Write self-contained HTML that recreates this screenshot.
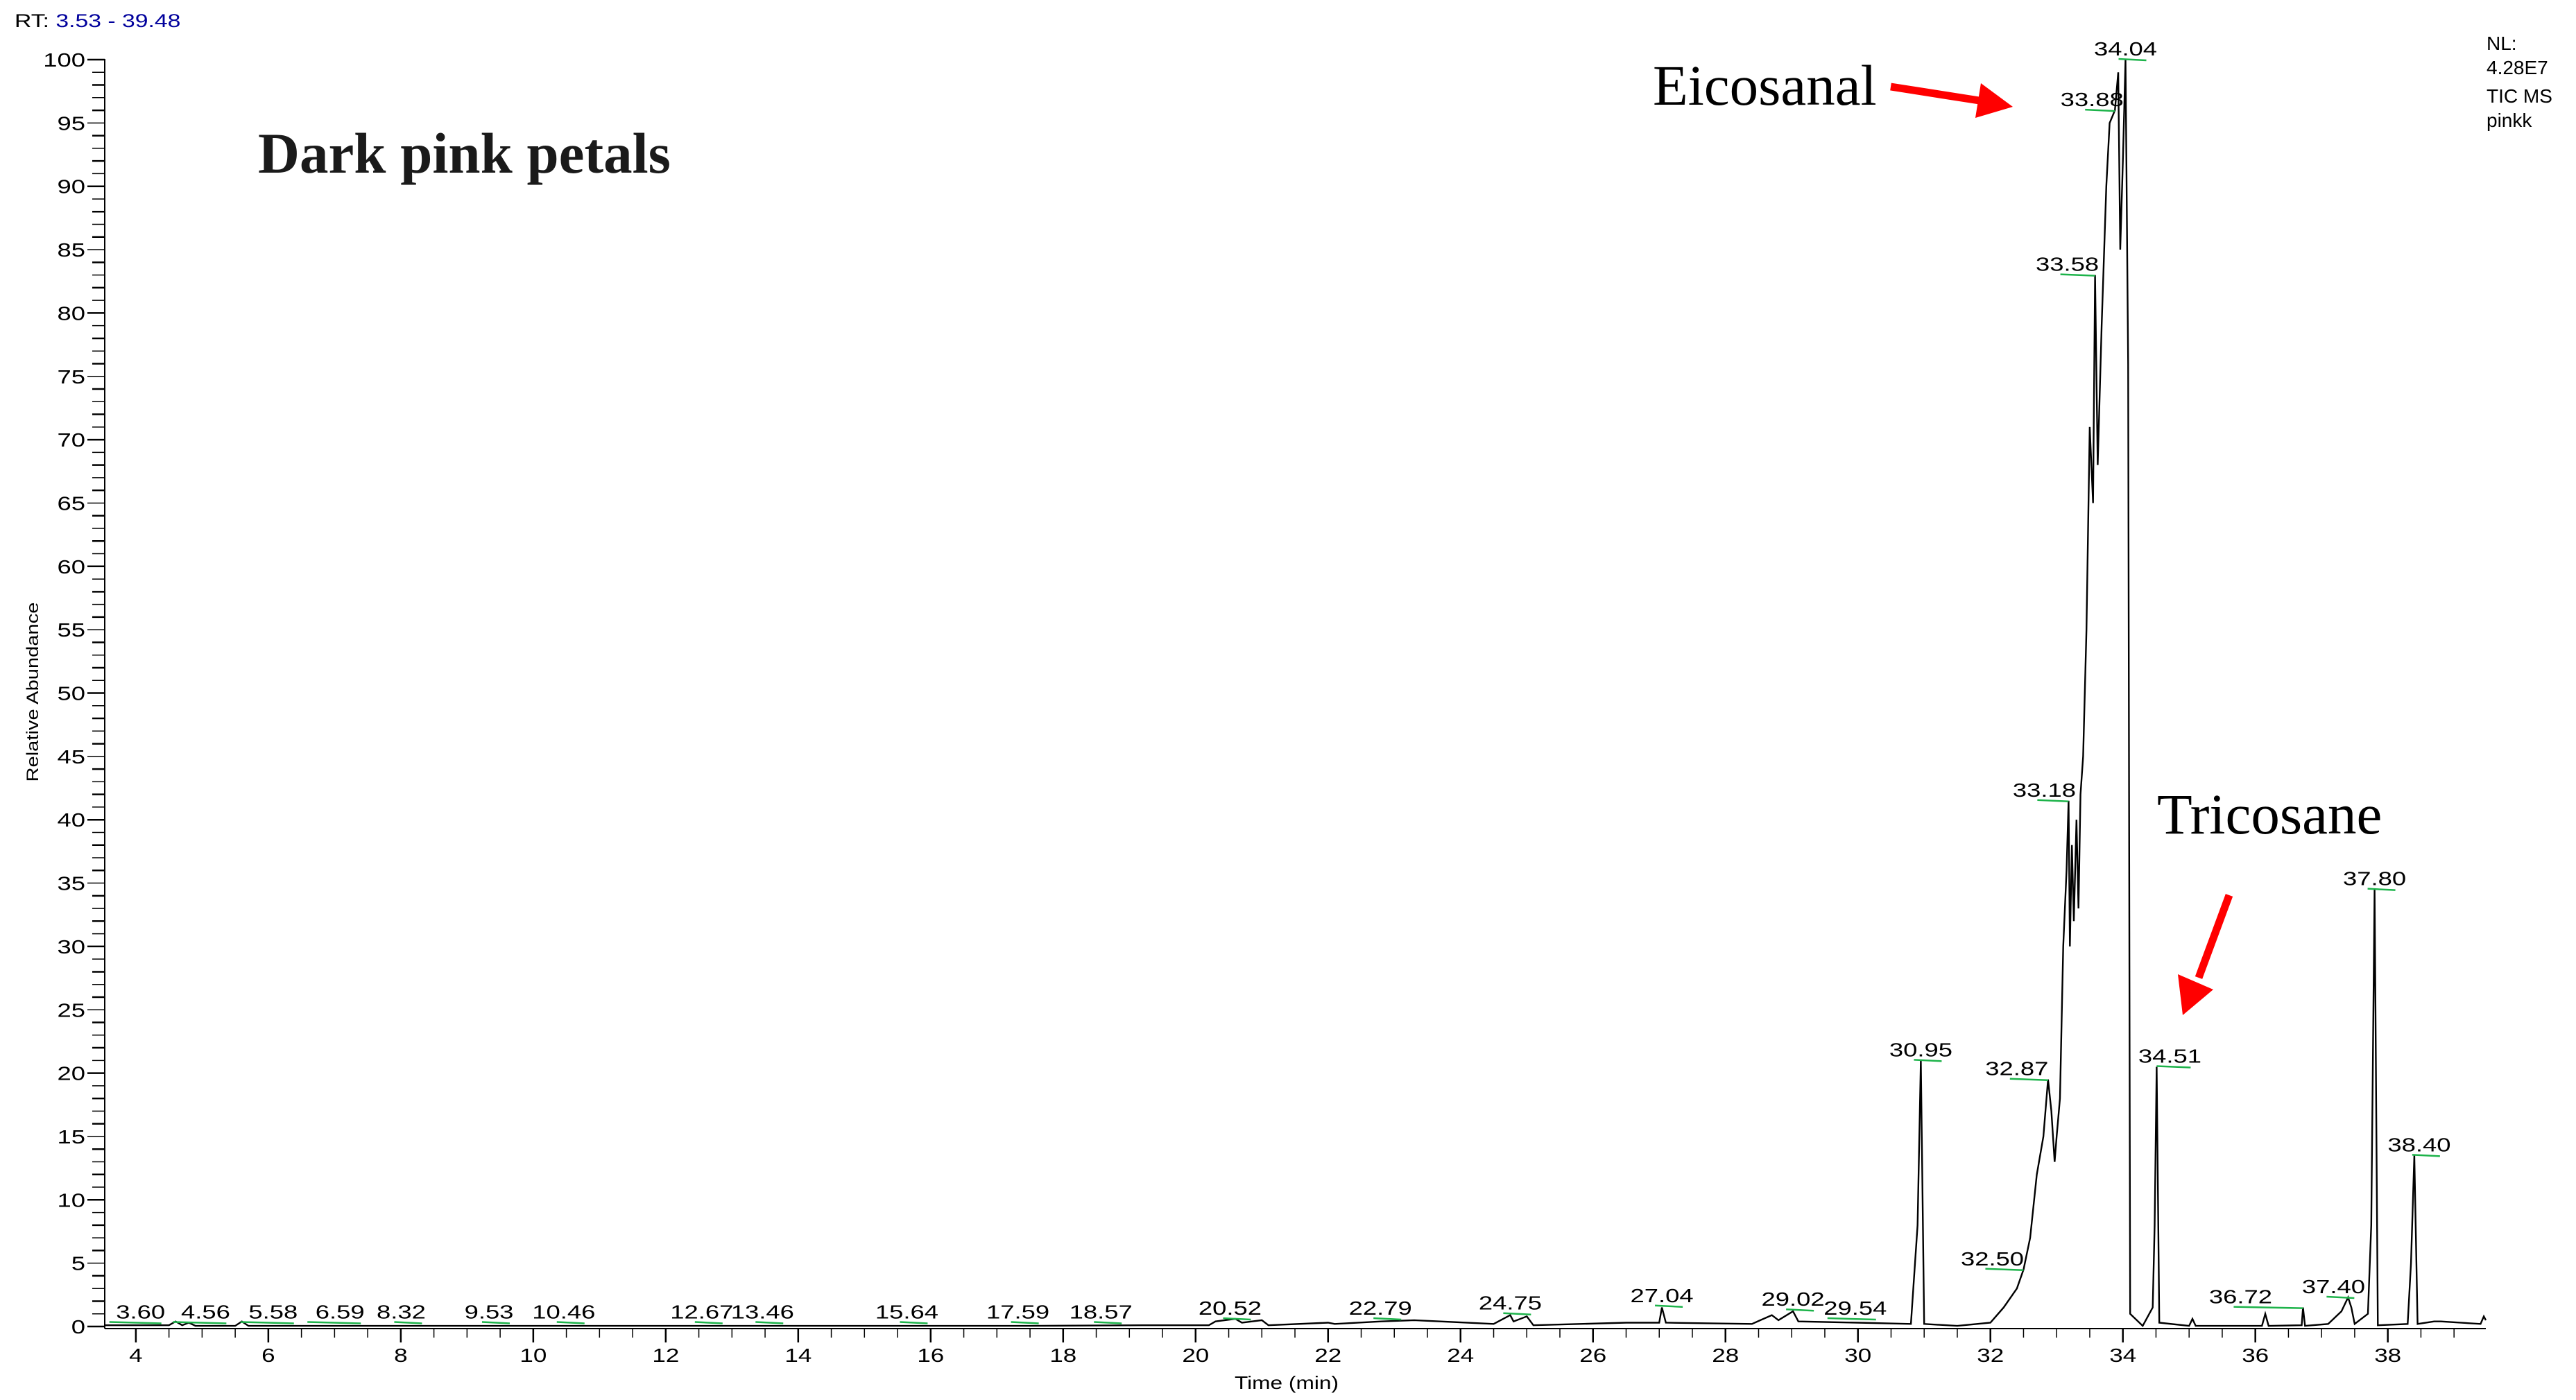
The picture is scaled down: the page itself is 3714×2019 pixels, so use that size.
<!DOCTYPE html>
<html><head><meta charset="utf-8"><style>
html,body{margin:0;padding:0;background:#fff;}
svg{display:block;font-family:"Liberation Sans",Arial,sans-serif;}
</style></head><body>
<svg id="chart" width="3714" height="2019" viewBox="0 0 3714 2019" xmlns="http://www.w3.org/2000/svg">
<rect x="0" y="0" width="3714" height="2019" fill="#fff"/>
<text x="21" y="39" font-size="27" transform="translate(21,0) scale(1.25,1) translate(-21,0)"><tspan fill="#000">RT: </tspan><tspan fill="#00009c">3.53 - 39.48</tspan></text>
<text x="3585" y="72" font-size="28">NL:</text>
<text x="3585" y="107" font-size="28">4.28E7</text>
<text x="3585" y="148" font-size="28">TIC  MS</text>
<text x="3585" y="183" font-size="28">pinkk</text>
<text x="372" y="249" font-size="83" font-weight="bold" font-family="Liberation Serif, serif" fill="#1a1a1a">Dark pink petals</text>
<text x="2383" y="151" font-size="83" font-family="Liberation Serif, serif">Eicosanal</text>
<text x="3110" y="1202" font-size="83" font-family="Liberation Serif, serif">Tricosane</text>
<g>
<line x1="2726" y1="125" x2="2860" y2="146" stroke="#f00" stroke-width="11"/>
<polygon points="2856,120 2902,154 2848,170" fill="#f00"/>
</g>
<g>
<line x1="3214" y1="1291" x2="3170" y2="1410" stroke="#f00" stroke-width="11"/>
<polygon points="3140,1405 3191,1427 3147,1464" fill="#f00"/>
</g>
<text transform="translate(55,998) rotate(-90)" text-anchor="middle" font-size="24" textLength="259" lengthAdjust="spacingAndGlyphs">Relative Abundance</text>
<text x="1855" y="2003" text-anchor="middle" font-size="26" textLength="150" lengthAdjust="spacingAndGlyphs">Time (min)</text>
<g id="axes"></g>
<g id="trace"></g>
<g id="labels"></g>
</svg>
<script>
// ---- data ----
const times = [3.53,4.5,4.6,4.7,4.8,4.9,5.5,5.6,5.7,8.3,9.5,12.6,17.5,19.2,20.2,20.3,20.6,20.7,21.0,21.1,22.0,22.1,22.8,23.3,24.5,24.75,24.8,25.0,25.1,26.5,27.0,27.04,27.1,28.4,28.7,28.8,29.02,29.1,30.0,30.8,30.9,30.95,31.0,31.5,32.0,32.2,32.4,32.5,32.6,32.7,32.8,32.87,32.92,32.97,33.0,33.05,33.1,33.15,33.18,33.2,33.23,33.26,33.3,33.33,33.36,33.4,33.45,33.5,33.55,33.58,33.62,33.68,33.75,33.8,33.88,33.93,33.96,34.0,34.04,34.08,34.11,34.3,34.45,34.48,34.51,34.55,35.0,35.05,35.1,36.1,36.15,36.2,36.7,36.72,36.75,37.1,37.3,37.4,37.45,37.5,37.7,37.75,37.8,37.85,38.3,38.35,38.4,38.45,38.7,38.8,39.4,39.45,39.48];
const abundance = [0.1,0.1,0.4,0.1,0.3,0.05,0.05,0.4,0.05,0.05,0.05,0.05,0.05,0.1,0.1,0.4,0.6,0.3,0.5,0.1,0.3,0.2,0.4,0.5,0.2,0.9,0.4,0.8,0.1,0.3,0.3,1.5,0.3,0.2,0.9,0.5,1.2,0.4,0.3,0.2,8,21,0.2,0.05,0.3,1.5,3,4.5,7,12,15,19.5,17,13,15,18,30,36,41.5,30,38,32,40,33,42,45,55,71,65,83,68,79,90,95,96,99,85,92,100,76,1,0.05,1.5,8,20.5,0.3,0.05,0.6,0.05,0.05,1.0,0.05,0.1,1.5,0.05,0.2,1.2,2.3,1.5,0.2,1.0,8,34.5,0.1,0.2,5,13.5,0.2,0.4,0.4,0.2,0.8,0.5];
const peakTimes = [3.60,4.56,5.58,6.59,8.32,9.53,10.46,12.67,13.46,15.64,17.59,18.57,20.52,22.79,24.75,27.04,29.02,29.54,30.95,32.50,32.87,33.18,33.58,33.88,34.04,34.51,36.72,37.40,37.80,38.40];
const peakHeights = [0.3,0.3,0.3,0.3,0.3,0.3,0.3,0.3,0.3,0.3,0.3,0.3,0.6,0.6,1.0,1.6,1.3,0.6,21,4.5,19.5,41.5,83,96,100,20.5,1.5,2.3,34.5,13.5];
const xTicks = [4,6,8,10,12,14,16,18,20,22,24,26,28,30,32,34,36,38];
const yTicks = [0,5,10,15,20,25,30,35,40,45,50,55,60,65,70,75,80,85,90,95,100];
// layout offsets of peak labels (px)
const labelDx = [45,47,47,47,-30,-19,0,-12,0,0,-26,0,0,0,0,0,0,40,0,-45,-45,-35,-40,-33,0,19,-90,-21,0,7];

// ---- scales ----
const X0=3.53, X1=39.48, PX0=151, PX1=3584;
const x = t => PX0 + (t-X0)*(PX1-PX0)/(X1-X0);
const y = v => 1913 - v*18.27;
const NS="http://www.w3.org/2000/svg";
function mk(tag, parent){const e=document.createElementNS(NS,tag);parent.appendChild(e);return e;}

const axes=document.getElementById('axes');
let yl=mk('line',axes);


yl.setAttribute('x1',PX0);yl.setAttribute('x2',PX0);yl.setAttribute('y1',y(100)-1);yl.setAttribute('y2',1916);yl.setAttribute('stroke','#000');yl.setAttribute('stroke-width','2');
let xl=mk('line',axes);


xl.setAttribute('x1',PX0);xl.setAttribute('x2',PX1);xl.setAttribute('y1',1916);xl.setAttribute('y2',1916);xl.setAttribute('stroke','#000');xl.setAttribute('stroke-width','2');

for(let v=0; v<=100; v++){
  const l=mk('line',axes);
  
  
  const major = v%5===0;
  l.setAttribute('x1', major?126:133);l.setAttribute('x2',PX0);
  l.setAttribute('y1',y(v));l.setAttribute('y2',y(v));
  l.setAttribute('stroke','#000');l.setAttribute('stroke-width', v%2===0?'2.5':'1.5');
}
yTicks.forEach(v=>{
  const t=mk('text',axes);
  
  
  t.setAttribute('text-anchor','end');t.setAttribute('font-size','28');
  t.setAttribute('transform',`translate(123,${y(v)+10}) scale(1.3,1)`);
  t.textContent=v;
});
for(let tt=3.5; tt<=39.5; tt+=0.5){
  if(tt<X0||tt>X1) continue;
  const l=mk('line',axes);
  
  
  const major = Math.abs(tt%2)<1e-6;
  l.setAttribute('x1',x(tt));l.setAttribute('x2',x(tt));
  l.setAttribute('y1',1916);l.setAttribute('y2',major?1936:1929);
  l.setAttribute('stroke','#000');l.setAttribute('stroke-width',major?'2.5':'1.5');
}
xTicks.forEach(v=>{
  const t=mk('text',axes);
  
  
  t.setAttribute('text-anchor','middle');t.setAttribute('font-size','28');
  t.setAttribute('transform',`translate(${x(v)},1964) scale(1.25,1)`);
  t.textContent=v;
});

const trace=document.getElementById('trace');
const p=mk('path',trace);


p.setAttribute('d', times.map((t,i)=>(i?'L':'M')+x(t).toFixed(1)+','+y(abundance[i]).toFixed(1)).join(' '));
p.setAttribute('fill','none');p.setAttribute('stroke','#000');p.setAttribute('stroke-width','2.4');p.setAttribute('stroke-linejoin','miter');

const labels=document.getElementById('labels');
peakTimes.forEach((t,i)=>{
  const cx = x(t)+labelDx[i];
  const by = Math.min(y(peakHeights[i])-6, 1902);
  const g=mk('line',labels);
  
  
  g.setAttribute('x1',Math.min(cx-10,x(t)));g.setAttribute('x2',Math.max(cx+30,x(t)));
  g.setAttribute('y1',by+5);g.setAttribute('y2',by+7);
  g.setAttribute('stroke','#1db34a');g.setAttribute('stroke-width','2.5');
  const tx=mk('text',labels);
  
  
  tx.setAttribute('text-anchor','middle');tx.setAttribute('font-size','28');
  tx.setAttribute('transform',`translate(${cx.toFixed(1)},${by}) scale(1.3,1)`);
  tx.textContent=t.toFixed(2);
});
</script>
</body></html>
